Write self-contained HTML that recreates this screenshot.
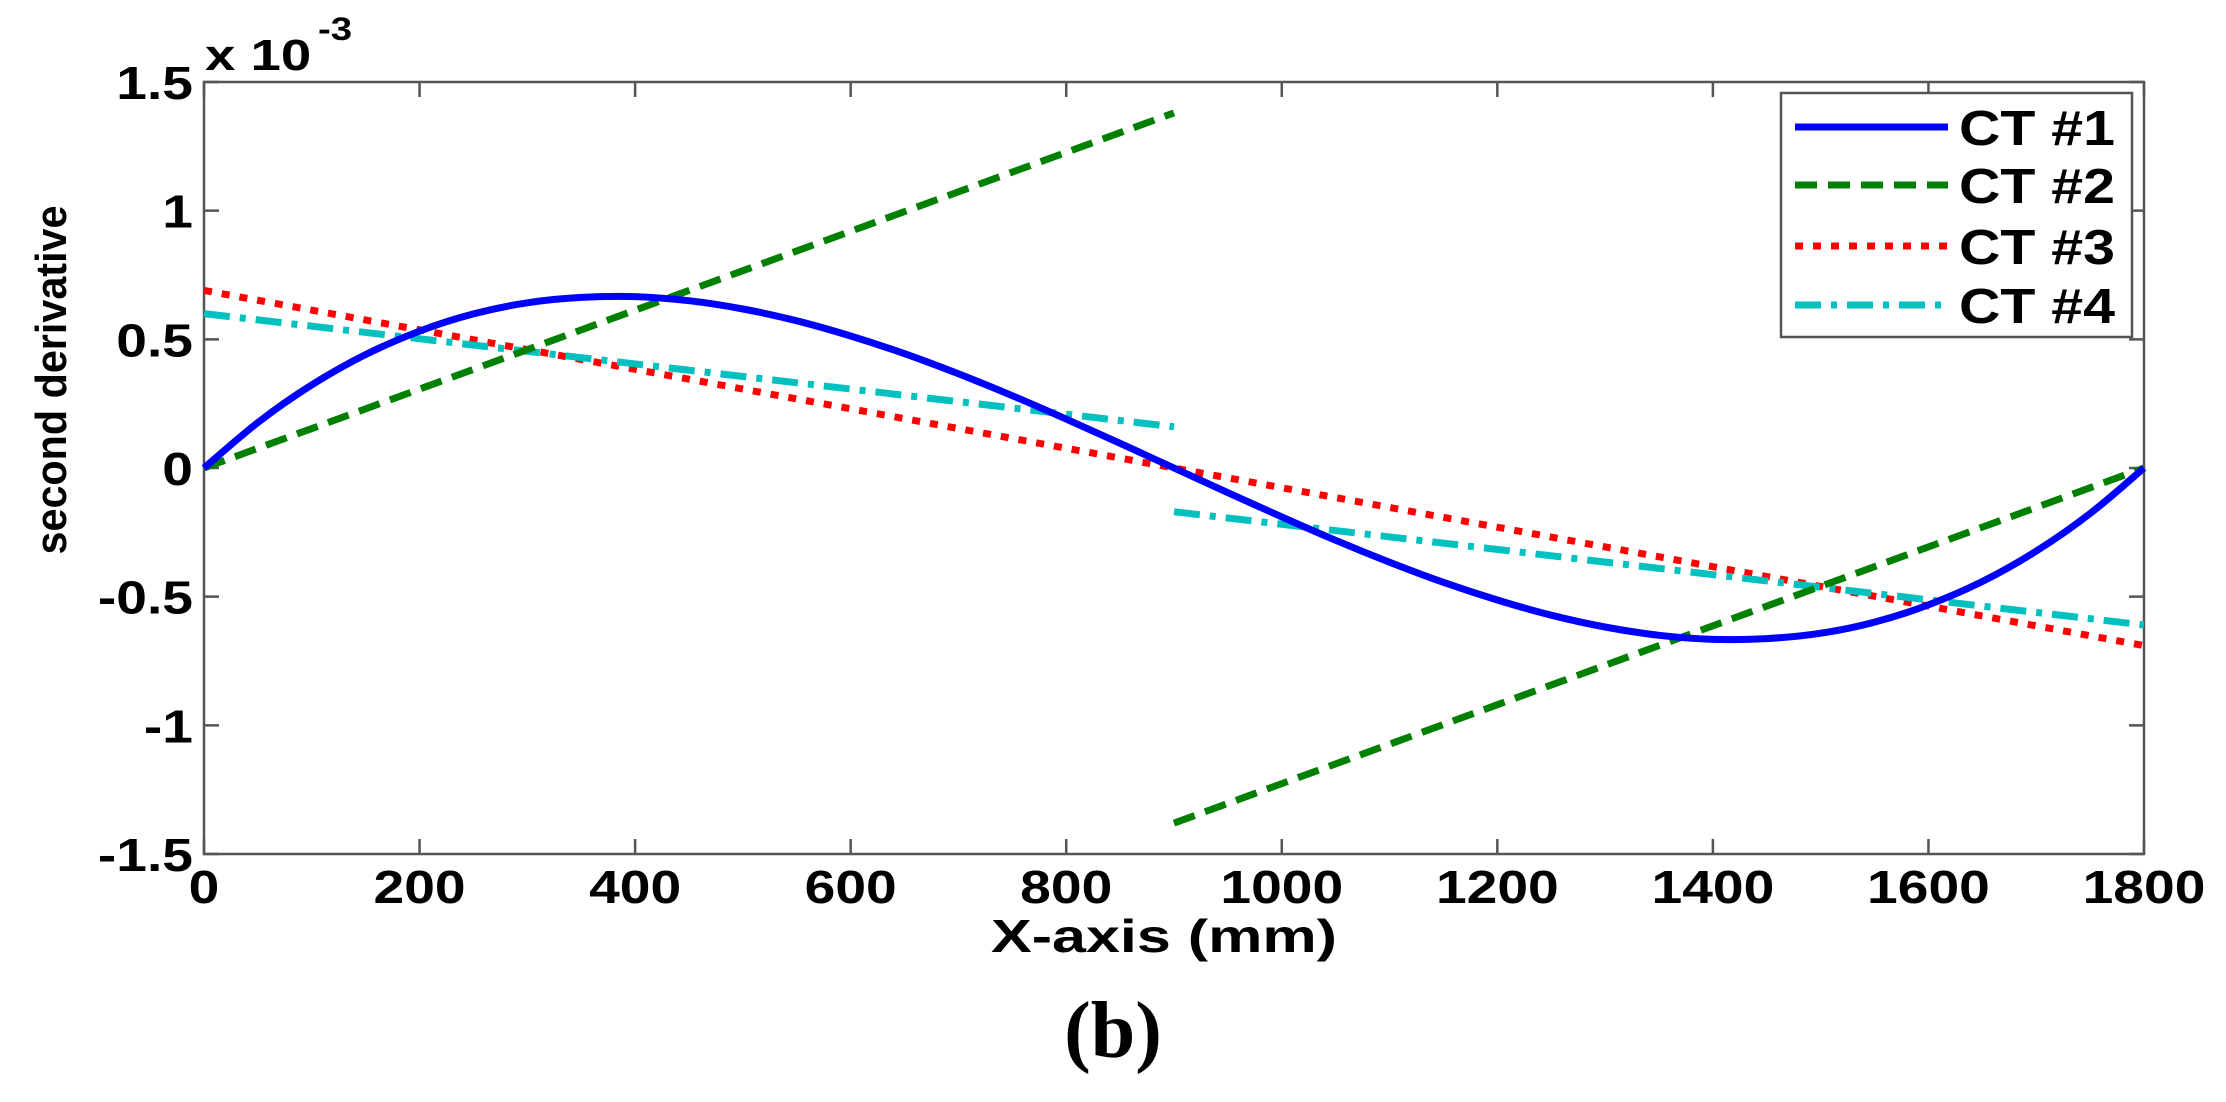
<!DOCTYPE html>
<html><head><meta charset="utf-8"><style>
html,body{margin:0;padding:0;background:#fff;}
svg{display:block;font-family:"Liberation Sans",Arial,sans-serif;}
</style></head><body>
<svg id="chart" width="2226" height="1102" viewBox="0 0 2226 1102">
<g id="axes"></g><g id="series"></g><g id="legend"></g>
<g transform="translate(205,70) scale(1.24,1)"><text x="0" y="0" font-size="44" font-weight="bold">x 10</text></g>
<g transform="translate(318,40) scale(1.2,1)"><text x="0" y="0" font-size="32" font-weight="bold">-3</text></g>
<text x="1164" y="952" font-size="46" font-weight="bold" text-anchor="middle" textLength="346" lengthAdjust="spacingAndGlyphs">X-axis (mm)</text>
<text transform="translate(66,380) rotate(-90)" font-size="44" font-weight="bold" text-anchor="middle" textLength="349" lengthAdjust="spacingAndGlyphs">second derivative</text>
<text x="1113" y="1057" font-size="80" font-weight="bold" text-anchor="middle" font-family="Liberation Serif, serif">(b)</text>
</svg>
<script>
const xTicks=[0,200,400,600,800,1000,1200,1400,1600,1800];
const yTicks=[-1.5,-1,-0.5,0,0.5,1,1.5];
const yTickLabels=["-1.5","-1","-0.5","0","0.5","1","1.5"];
const ct1X=[0,50,100,150,200,250,300,350,400,450,500,550,600,650,700,750,800,850,900,950,1000,1050,1100,1150,1200,1250,1300,1350,1400,1450,1500,1550,1600,1650,1700,1750,1800];
const ct1Y=[0,0.177,0.323,0.441,0.532,0.599,0.642,0.663,0.666,0.650,0.618,0.572,0.513,0.444,0.366,0.281,0.190,0.096,0,-0.096,-0.190,-0.281,-0.366,-0.444,-0.513,-0.572,-0.618,-0.650,-0.666,-0.663,-0.642,-0.599,-0.532,-0.441,-0.323,-0.177,0];
const ct2X=[[0,900],[900,1800]];
const ct2Y=[[0,1.38],[-1.38,0]];
const ct3X=[[0,1800]];
const ct3Y=[[0.69,-0.69]];
const ct4X=[[0,900],[900,1800]];
const ct4Y=[[0.6,0.16],[-0.17,-0.61]];
const legendLabels=["CT #1","CT #2","CT #3","CT #4"];

const L=204,R=2144,T=82,B=854;
const sx=v=>L+(v-0)/(1800-0)*(R-L);
const sy=v=>B-(v+1.5)/3*(B-T);
const NS="http://www.w3.org/2000/svg";
function mk(tag,attrs,parent){const e=document.createElementNS(NS,tag);for(const k in attrs)e.setAttribute(k,attrs[k]);parent.appendChild(e);return e;}
const axes=document.getElementById('axes'),ser=document.getElementById('series'),leg=document.getElementById('legend');
const box=mk('rect',{x:L,y:T,width:R-L,height:B-T,fill:'none',stroke:'#555','stroke-width':2.5},axes);


xTicks.forEach(v=>{
  const x=sx(v);
  const t=mk('path',{d:`M${x},${B}v-15M${x},${T}v15`,stroke:'#555','stroke-width':2.5},axes);
  
  
  const g=mk('g',{transform:`translate(${x},903) scale(1.2,1)`},axes);
  const lb=mk('text',{x:0,y:0,'font-size':46,'font-weight':'bold','text-anchor':'middle'},g);
  lb.textContent=v;
  
  
});
yTicks.forEach((v,i)=>{
  const y=sy(v);
  const t=mk('path',{d:`M${L},${y}h15M${R},${y}h-15`,stroke:'#555','stroke-width':2.5},axes);
  
  
  const g=mk('g',{transform:`translate(193,${y+17}) scale(1.2,1)`},axes);
  const lb=mk('text',{x:0,y:0,'font-size':46,'font-weight':'bold','text-anchor':'end'},g);
  lb.textContent=yTickLabels[i];
  
  
});
const styles=[
 {c:'#0000ff',d:'',w:7},
 {c:'#008000',d:'22 11',w:7},
 {c:'#ff0000',d:'8 10',w:7},
 {c:'#00c0c0',d:'26 10 6 10',w:7}
];
function draw(xs,ys,st,name,smooth){
  const P=xs.map((x,i)=>[sx(x),sy(ys[i])]);
  let d='M'+P[0][0].toFixed(1)+','+P[0][1].toFixed(1);
  for(let i=1;i<P.length;i++){
    if(smooth){
      const p0=P[Math.max(0,i-2)],p1=P[i-1],p2=P[i],p3=P[Math.min(P.length-1,i+1)];
      const c1=[p1[0]+(p2[0]-p0[0])/6,p1[1]+(p2[1]-p0[1])/6],c2=[p2[0]-(p3[0]-p1[0])/6,p2[1]-(p3[1]-p1[1])/6];
      d+=`C${c1[0].toFixed(1)},${c1[1].toFixed(1)} ${c2[0].toFixed(1)},${c2[1].toFixed(1)} ${p2[0].toFixed(1)},${p2[1].toFixed(1)}`;
    } else d+='L'+P[i][0].toFixed(1)+','+P[i][1].toFixed(1);
  }
  const p=mk('path',{d:d,fill:'none',stroke:st.c,'stroke-width':st.w,'stroke-dasharray':st.d,'stroke-linejoin':'round'},ser);
  
  
}
ct3X.forEach((xs,i)=>draw(xs,ct3Y[i],styles[2],'ct3-line'));
ct4X.forEach((xs,i)=>draw(xs,ct4Y[i],styles[3],'ct4-line'));
ct2X.forEach((xs,i)=>draw(xs,ct2Y[i],styles[1],'ct2-line'));
draw(ct1X,ct1Y,styles[0],'ct1-line',true);
const lb=mk('rect',{x:1781,y:93,width:351,height:244,fill:'#fff',stroke:'#555','stroke-width':2.5},leg);


const ly=[127,185,246,305];
legendLabels.forEach((s,i)=>{
  const st=styles[i];
  const l=mk('line',{x1:1795,x2:1948,y1:ly[i],y2:ly[i],stroke:st.c,'stroke-width':st.w,'stroke-dasharray':st.d},leg);
  
  
  const t=mk('text',{x:1959,y:ly[i]+18,'font-size':49,'font-weight':'bold',textLength:156,lengthAdjust:'spacingAndGlyphs'},leg);
  t.textContent=s;
  
  
});
</script>
</body></html>
